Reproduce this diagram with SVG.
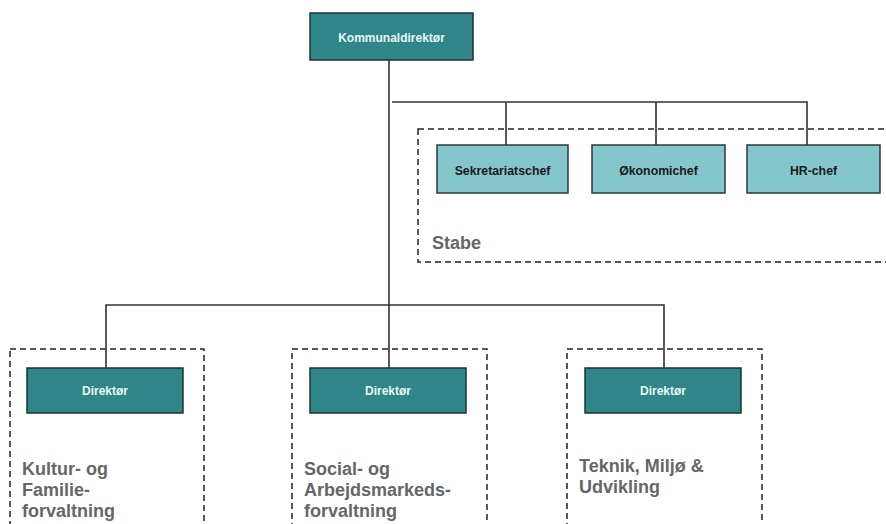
<svg xmlns="http://www.w3.org/2000/svg" width="886" height="524" viewBox="0 0 886 524">
<style>
.dark{fill:#2f8588;stroke:#1e3535;stroke-width:1.5}
.light{fill:#84c6cb;stroke:#2a3a3a;stroke-width:1.5}
.dt{font-family:"Liberation Sans",Arial,sans-serif;font-weight:bold;font-size:12px;fill:#e8f6f6;text-anchor:middle}
.lt{font-family:"Liberation Sans",Arial,sans-serif;font-weight:bold;font-size:12.3px;fill:#1a1a1a;text-anchor:middle}
.grp{fill:none;stroke:#222;stroke-width:1.5;stroke-dasharray:6,4}
.gl{font-family:"Liberation Sans",Arial,sans-serif;font-weight:bold;font-size:18px;fill:#666}
.conn{fill:none;stroke:#333;stroke-width:1.6}
</style>
<rect width="886" height="524" fill="#fff"/>
<g id="groups">
<rect class="grp" x="418" y="129" width="480" height="133"/>
<rect class="grp" x="10" y="349" width="194" height="190"/>
<rect class="grp" x="292" y="349" width="195" height="190"/>
<rect class="grp" x="567" y="349" width="195" height="190"/>
</g>
<g id="connectors">
<path class="conn" d="M389,60 V305"/>
<path class="conn" d="M392,102 H807 V145 M506,102 V145 M656,102 V145"/>
<path class="conn" d="M106,368 V305 H664 V368 M389,305 V368"/>
</g>
<g id="kommunaldirektor">
<rect class="dark" x="310" y="13" width="163" height="47"/>
<text class="dt" x="391.5" y="41.5" font-size="13">Kommunaldirektør</text>
</g>
<g id="sekretariatschef">
<rect class="light" x="437" y="145" width="131" height="48"/>
<text class="lt" x="502.5" y="174.5">Sekretariatschef</text>
</g>
<g id="okonomichef">
<rect class="light" x="592" y="145" width="133" height="48"/>
<text class="lt" x="658.5" y="174.5">Økonomichef</text>
</g>
<g id="hr-chef">
<rect class="light" x="747" y="145" width="133" height="48"/>
<text class="lt" x="813.5" y="174.5">HR-chef</text>
</g>
<g id="stabe">
<text class="gl" x="432" y="249" font-size="17">Stabe</text>
</g>
<g id="direktor1">
<rect class="dark" x="27" y="368" width="156" height="45"/>
<text class="dt" x="105" y="395">Direktør</text>
</g>
<g id="direktor2">
<rect class="dark" x="310" y="368" width="156" height="45"/>
<text class="dt" x="388" y="395">Direktør</text>
</g>
<g id="direktor3">
<rect class="dark" x="585" y="368" width="156" height="45"/>
<text class="dt" x="663" y="395">Direktør</text>
</g>
<g id="kultur">
<text class="gl" x="22" y="475">Kultur- og</text>
<text class="gl" x="22" y="496">Familie-</text>
<text class="gl" x="22" y="517">forvaltning</text>
</g>
<g id="social">
<text class="gl" x="304" y="475">Social- og</text>
<text class="gl" x="304" y="496">Arbejdsmarkeds-</text>
<text class="gl" x="304" y="517">forvaltning</text>
</g>
<g id="teknik">
<text class="gl" x="579" y="472">Teknik, Miljø &amp;</text>
<text class="gl" x="579" y="493">Udvikling</text>
</g>
</svg>
